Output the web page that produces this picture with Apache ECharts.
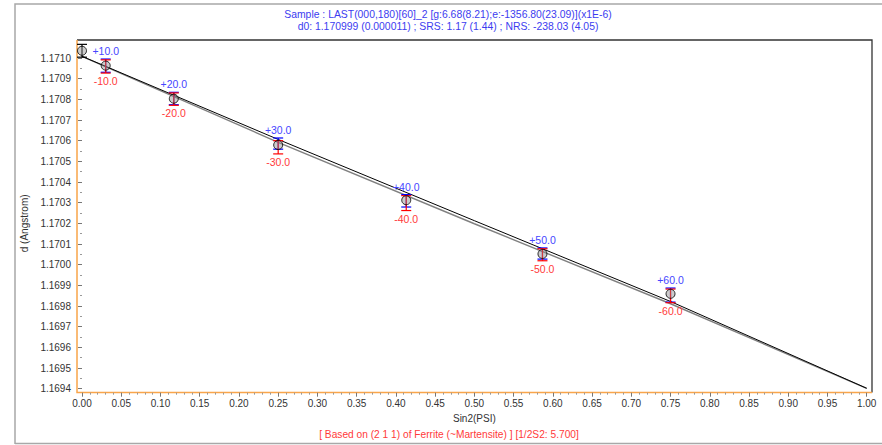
<!DOCTYPE html>
<html><head><meta charset="utf-8">
<script src="https://cdn.jsdelivr.net/npm/echarts@6/dist/echarts.min.js"></script>
<style>html,body{margin:0;padding:0;background:#fff}#c{width:882px;height:445px}</style>
</head><body><div id="c"></div>
<script>
// ---- texts ----
const titleLine1 = 'Sample : LAST(000,180)[60]_2 [g:6.68(8.21);e:-1356.80(23.09)](x1E-6)';
const titleLine2 = 'd0: 1.170999 (0.000011) ; SRS: 1.17 (1.44) ; NRS: -238.03 (4.05)';
const footNote = '[ Based on (2 1 1) of Ferrite (~Martensite) ] [1/2S2: 5.700]';
const xName = 'Sin2(PSI)';
const yName = 'd (Angstrom)';

// ---- data ----
const sin2psi   = [0, 0.0302, 0.117, 0.25, 0.4132, 0.5868, 0.75];
const dMean     = [1.171035, 1.170963, 1.170803, 1.170579, 1.170312, 1.170052, 1.169859];
const psi0Err   = [0.000031];
const dPlus     = [null, 1.170963, 1.170804, 1.170586, 1.170309, 1.170054, 1.169853];
const dPlusErr  = [null, 0.000032, 0.000030, 0.000027, 0.000030, 0.000027, 0.000034];
const dMinus    = [null, 1.170959, 1.170801, 1.170568, 1.170298, 1.170048, 1.169849];
const dMinusErr = [null, 0.000032, 0.000030, 0.000032, 0.000036, 0.000029, 0.000033];
const plusLabels  = [null, '+10.0', '+20.0', '+30.0', '+40.0', '+50.0', '+60.0'];
const minusLabels = [null, '-10.0', '-20.0', '-30.0', '-40.0', '-50.0', '-60.0'];

const fitX     = [0, 0.25, 0.5, 0.75, 1.0];
const fitBlack = [1.171008, 1.170606, 1.170213, 1.169822, 1.169402];
const fitGray  = [1.171008, 1.170592, 1.170198, 1.169811, 1.169402];

const FONT = '"Liberation Sans", Arial, sans-serif';
const ORANGE = '#f9a54a';

function barSeries(vals, errs, labels, barColor, textColor, dir) {
  const data = [];
  for (let i = 0; i < sin2psi.length; i++) {
    if (vals[i] == null) continue;
    data.push({ value: [sin2psi[i], vals[i], errs[i]], lab: labels ? labels[i] : null });
  }
  return {
    type: 'custom', z: 3, clip: false,
    data: data.map(d => d.value),
    renderItem: function (params, api) {
      const x = api.value(0), v = api.value(1), e = api.value(2);
      const t = api.coord([x, v + e]);
      const b = api.coord([x, v - e]);
      const hw = 5;
      const st = { stroke: barColor, lineWidth: 1.2 };
      const ch = [
        { type: 'line', shape: { x1: t[0], y1: t[1], x2: b[0], y2: b[1] }, style: st },
        { type: 'line', shape: { x1: t[0] - hw, y1: t[1], x2: t[0] + hw, y2: t[1] }, style: st },
        { type: 'line', shape: { x1: b[0] - hw, y1: b[1], x2: b[0] + hw, y2: b[1] }, style: st }
      ];
      const lab = data[params.dataIndex].lab;
      if (lab) {
        const p = dir < 0 ? t : b;
        ch.push({ type: 'text', style: { text: lab, x: p[0], y: p[1] + dir * 8,
          textAlign: 'center', textVerticalAlign: 'middle', fill: textColor,
          font: '10.5px ' + FONT } });
      }
      return { type: 'group', children: ch };
    }
  };
}

const option = {
  animation: false,
  backgroundColor: '#fff',
  title: [
    { text: titleLine1, left: 448, top: 9, textAlign: 'center', padding: 0,
      textStyle: { color: '#3c3cf0', fontSize: 10.4, fontWeight: 'normal', fontFamily: FONT } },
    { text: titleLine2, left: 448, top: 21, textAlign: 'center', padding: 0,
      textStyle: { color: '#3c3cf0', fontSize: 10.4, fontWeight: 'normal', fontFamily: FONT } },
    { text: footNote, left: 449, top: 429, textAlign: 'center', padding: 0,
      textStyle: { color: '#ff3a3a', fontSize: 10.2, fontWeight: 'normal', fontFamily: FONT } }
  ],
  grid: { left: 82, right: 15.3, top: 58, bottom: 56.3 },
  xAxis: {
    type: 'value', min: 0, max: 1, interval: 0.05, offset: 4,
    name: xName, nameLocation: 'middle', nameGap: 19,
    nameTextStyle: { color: '#333', fontSize: 10, fontFamily: FONT },
    axisLine: { show: false },
    axisTick: { show: true, length: 4, lineStyle: { color: '#777' } },
    minorTick: { show: true, splitNumber: 5, length: 2, lineStyle: { color: '#999' } },
    splitLine: { show: false },
    axisLabel: { color: '#333', fontSize: 10, fontFamily: FONT, margin: 6,
      formatter: v => v.toFixed(2) }
  },
  yAxis: {
    type: 'value', min: 1.1694, max: 1.1710, interval: 0.0001, offset: 5,
    name: yName, nameLocation: 'middle', nameGap: 37, nameRotate: 90,
    nameTextStyle: { color: '#333', fontSize: 10, fontFamily: FONT },
    axisLine: { show: false },
    axisTick: { show: true, length: 4, lineStyle: { color: '#777' } },
    minorTick: { show: true, splitNumber: 2, length: 2, lineStyle: { color: '#999' } },
    splitLine: { show: false },
    axisLabel: { color: '#333', fontSize: 10, fontFamily: FONT, margin: 6,
      formatter: v => v.toFixed(4) }
  },
  graphic: [
    { type: 'polyline', silent: true, z: -1, shape: { points: [[15, 444], [15, 4], [882, 4]] },
      style: { stroke: '#a8a8a8', lineWidth: 1.5, fill: null } },
    { type: 'line', silent: true, z: -1, shape: { x1: 15, y1: 443.5, x2: 882, y2: 443.5 },
      style: { stroke: '#a8a8a8', lineWidth: 1.5 } },
    { type: 'polyline', silent: true, z: -1, shape: { points: [[77, 40], [872, 40], [872, 392.5]] },
      style: { stroke: '#333', lineWidth: 1.3, fill: null } },
    { type: 'polyline', silent: true, z: -1, shape: { points: [[77, 40], [77, 392.5], [872, 392.5]] },
      style: { stroke: ORANGE, lineWidth: 1.5, fill: null } }
  ],
  series: [
    { type: 'line', z: 2, clip: false, symbol: 'none', silent: true,
      data: fitX.map((x, i) => [x, fitGray[i]]),
      lineStyle: { color: '#808080', width: 1.4 } },
    { type: 'line', z: 2, clip: false, symbol: 'none', silent: true,
      data: fitX.map((x, i) => [x, fitBlack[i]]),
      lineStyle: { color: '#000', width: 1 } },
    barSeries([dMean[0]], psi0Err, null, '#000', '#000', -1),
    barSeries(dPlus, dPlusErr, plusLabels, '#0000ff', '#4646ff', -1),
    barSeries(dMinus, dMinusErr, minusLabels, '#ff0000', '#ff3a3a', 1),
    { type: 'scatter', z: 4, clip: false, symbol: 'circle', symbolSize: 9,
      data: sin2psi.map((x, i) => [x, dMean[i]]),
      itemStyle: { color: 'rgba(140,140,140,0.55)', borderColor: '#000', borderWidth: 1 } }
  ]
};

const chart = echarts.init(document.getElementById('c'), null, { renderer: 'svg' });
chart.setOption(option);
</script>
</body></html>
